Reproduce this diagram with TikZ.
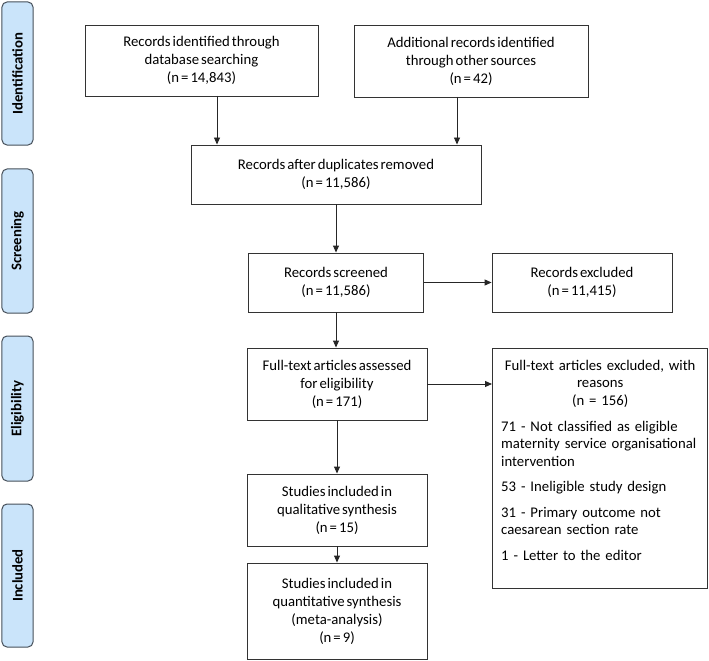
\documentclass[tikz,border=0pt]{standalone}
\usepackage{fontspec}
\setmainfont{Carlito}[WordSpace=0.6]
\usetikzlibrary{arrows.meta}
\definecolor{phase}{RGB}{202,228,250}
\definecolor{phaseline}{RGB}{70,80,90}
\begin{document}
\begin{tikzpicture}[x=1bp,y=-1bp,
  box/.style={draw=black!80, line width=0.9bp, fill=white, align=center, inner sep=0pt,
    font=\fontsize{14.8}{18}\selectfont},
  phasebox/.style={draw=phaseline, fill=phase, rounded corners=5bp, line width=1bp,
    inner sep=0pt, rotate=90, font=\bfseries\fontsize{14.8}{16}\selectfont},
  arr/.style={-{Triangle[length=7bp,width=6bp]}, line width=0.9bp, black!85}
]
\useasboundingbox (0,0) rectangle (709,661);
% phase labels
\node[phasebox, minimum height=31bp, minimum width=143bp] (ph1) at (17.5,73.5) {Identification};
\node[phasebox, minimum height=31bp, minimum width=144bp] (ph2) at (17.5,241) {Screening};
\node[phasebox, minimum height=31bp, minimum width=145bp] (ph3) at (17.5,408.5) {Eligibility};
\node[phasebox, minimum height=31bp, minimum width=143bp] (ph4) at (17.5,575.5) {Included};
% boxes
\node[box, minimum width=233bp, minimum height=71bp] (b1) at (201.5,60.5)
  {Records identified through\\database searching\\(n = 14,843)};
\node[box, minimum width=234bp, minimum height=72bp] (b2) at (471,61)
  {Additional records identified\\through other sources\\(n = 42)};
\node[box, minimum width=290bp, minimum height=59bp] (b3) at (336,174.5)
  {Records after duplicates removed\\(n = 11,586)};
\node[box, minimum width=175bp, minimum height=59bp] (b4) at (336,282.5)
  {Records screened\\(n = 11,586)};
\node[box, minimum width=180bp, minimum height=59bp] (b5) at (582,282.5)
  {Records excluded\\(n = 11,415)};
\node[box, minimum width=180bp, minimum height=72bp] (b6) at (337,384)
  {Full-text articles assessed\\for eligibility\\(n = 171)};
\node[box, minimum width=215bp, minimum height=240bp, anchor=north west] (b7) at (492,348) {};
\node[anchor=north west, inner sep=0pt, text width=198bp, align=left,
  font=\fontsize{14.8}{17.6}\selectfont] (b7t) at (501,360)
  {{\centering Full-text articles excluded, with\\reasons\\(n = 156)\\[8bp]}
   71 - Not classified as eligible\\
   maternity service organisational\\
   intervention\\[8bp]
   53 - Ineligible study design\\[8bp]
   31 - Primary outcome not\\
   caesarean section rate\\[8bp]
   1 - Letter to the editor};
\node[box, minimum width=180bp, minimum height=72bp] (b8) at (337,510)
  {Studies included in\\qualitative synthesis\\(n = 15)};
\node[box, minimum width=180bp, minimum height=96bp] (b9) at (337,611)
  {Studies included in\\quantitative synthesis\\(meta-analysis)\\(n = 9)};
% arrows
\coordinate (a1) at (217,96);
\coordinate (a2) at (457,97);
\draw[arr] (a1) -- (a1 |- b3.north);
\draw[arr] (a2) -- (a2 |- b3.north);
\draw[arr] (b3.south -| b4.north) -- (b4.north);
\draw[arr] (b4.east) -- (b5.west);
\draw[arr] (b4.south) -- (b4.south |- b6.north);
\draw[arr] (b6.east) -- (b6.east -| b7.west);
\draw[arr] (b6.south) -- (b8.north);
\draw[arr] (b8.south) -- (b9.north);
\end{tikzpicture}
\end{document}
